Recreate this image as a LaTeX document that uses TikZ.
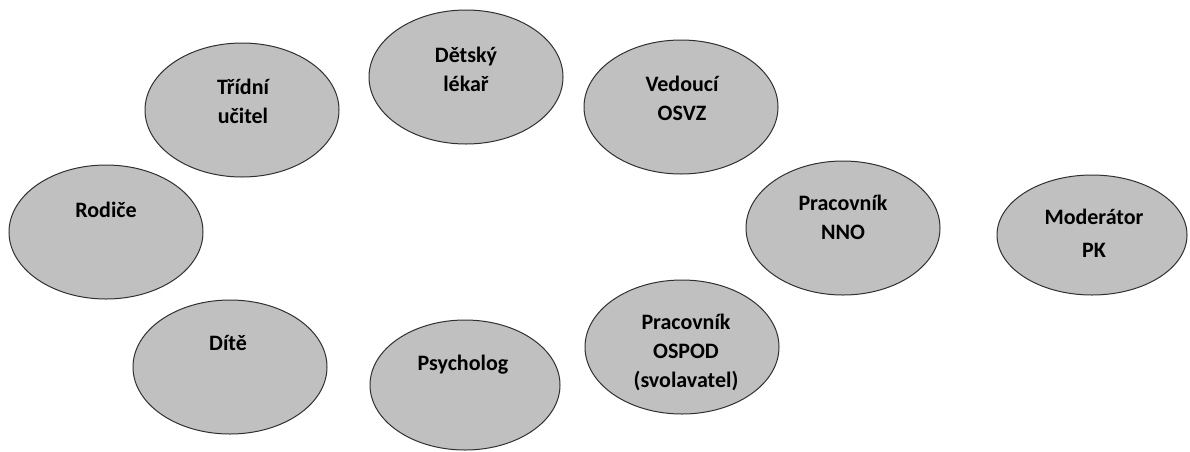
\documentclass[tikz,border=0pt]{standalone}
\usepackage{fontspec}
\setmainfont{Carlito}
\usetikzlibrary{shapes.geometric}
\definecolor{ellfill}{HTML}{C0C0C0}
\definecolor{ellline}{HTML}{303030}
\tikzset{
  oval/.style={ellipse, draw=ellline, fill=ellfill, line width=1pt, inner sep=0pt,
               minimum width=194pt, minimum height=134pt},
  lbl/.style={font=\fontsize{22}{29}\selectfont\bfseries, align=center, text=black, inner sep=0pt}
}
\begin{document}
\begin{tikzpicture}[x=1pt,y=-1pt]
\useasboundingbox (0,0) rectangle (1190,451);
% ellipses
\node[oval] (ucitel) at (242,110) {};
\node[oval] (lekar) at (466,77) {};
\node[oval] (osvz) at (681,107) {};
\node[oval] (rodice) at (106,232) {};
\node[oval] (nno) at (843,228) {};
\node[oval, minimum width=190pt, minimum height=120pt] (pk) at (1092,235) {};
\node[oval] (dite) at (230,367) {};
\node[oval, minimum width=190pt, minimum height=130pt] (psych) at (465,385) {};
\node[oval] (ospod) at (682,347) {};
% labels
\node[lbl] (tUcitel) at (243,101) {Třídní\\učitel};
\node[lbl] (tLekar) at (466,69) {Dětský\\lékař};
\node[lbl] (tOsvz) at (682,98) {Vedoucí\\OSVZ};
\node[lbl] (tRodice) at (106,210) {Rodiče};
\node[lbl] (tNno) at (843,217) {Pracovník\\NNO};
\node[lbl] (tPk) at (1094,233) {Moderátor\\[4pt]PK};
\node[lbl] (tDite) at (228,343) {Dítě};
\node[lbl] (tPsych) at (463,365) {Psycholog};
\node[lbl] (tOspod) at (686,352) {Pracovník\\OSPOD\\(svolavatel)};
\end{tikzpicture}
\end{document}
